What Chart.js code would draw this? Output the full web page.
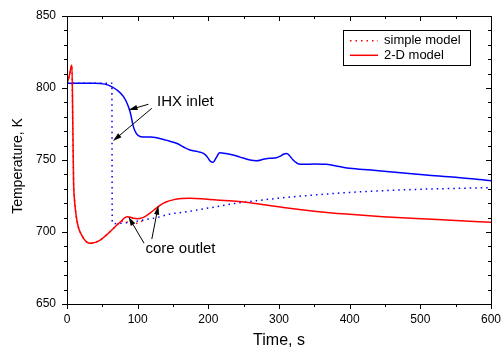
<!DOCTYPE html>
<html lang="en">
<head>
    <meta charset="UTF-8">
    <title>Temperature vs time</title>
    <script src="https://cdn.jsdelivr.net/npm/chart.js"></script>
    <style>
        body { margin: 0; background: #fff; }
    </style>
</head>
<body>
    <canvas id="lineChart" width="502" height="350"></canvas>

    <script>
        // 2-D model, core outlet (red solid)
        const coreTime2D = [0, 3, 7, 8.2, 9.3, 10.5, 11.7, 14, 16.5, 20, 23.4, 28, 33, 40, 47, 56, 66, 75, 85, 90, 94, 100, 106, 112, 118, 125, 132, 140, 150, 162, 174, 190, 212, 235, 259, 306, 353, 400, 447, 494, 550, 600];
        const coreTemp2D = [803, 808, 816, 775, 735, 723, 716.5, 708, 702.6, 698.5, 695.6, 693, 692.2, 692.8, 694.4, 698, 702.6, 706.8, 710.6, 710.3, 709.5, 709.2, 709.8, 711.2, 713.3, 716, 718.7, 720.8, 722.3, 723.2, 723.4, 723.1, 722.2, 721.5, 720.3, 717, 714.3, 712.3, 710.6, 709.3, 708, 706.7];

        // 2-D model, IHX inlet (blue solid)
        const ihxTime2D = [0, 20, 40, 47, 55, 63, 70.6, 80, 87, 90, 94, 98, 101, 108, 118, 127, 140, 155, 165, 174, 185, 193, 198, 203, 207, 211, 216, 225, 235, 245, 259, 268, 278, 287, 296, 301, 307, 311, 315, 320, 325, 328, 335, 350, 367, 385, 400, 430, 456, 480, 508, 550, 600];
        const ihxTemp2D = [803.3, 803.3, 803.3, 803.2, 802.5, 801, 798.6, 794, 787, 782, 773, 768.5, 767, 766, 766, 765.5, 763.8, 761.6, 759, 757, 755.8, 754.6, 752.5, 749, 748.5, 751.5, 755, 754.5, 753.5, 752, 750, 749.5, 750.5, 751.2, 751.5, 752.5, 754.2, 754.6, 753, 750, 748, 747.2, 747, 747.2, 747, 745.5, 744.2, 743, 741.9, 740.8, 739.6, 738, 735.6];

        // simple model, IHX inlet (blue dotted)
        const ihxTimeSimple = [0, 63.5, 64, 66, 80, 94, 110, 127, 146, 165, 190, 212, 240, 259, 300, 350, 400, 450, 500, 550, 600];
        const ihxTempSimple = [803.3, 803.3, 707, 705.8, 706.2, 707, 708.5, 710, 712.5, 713.7, 715.8, 717.6, 720, 721.2, 723.5, 725.7, 727.5, 728.7, 729.7, 730.3, 730.8];

        // simple model, core outlet (red dotted)
        const coreTimeSimple = [0, 3, 7, 8.2, 9.3, 10.5, 11.7, 14, 16.5, 20, 23.4, 28, 33, 40, 47, 56, 66, 75, 82, 89, 100, 110];
        const coreTempSimple = [803, 808, 816, 775, 735, 723, 716.5, 708, 702.6, 698.5, 695.6, 693, 692.2, 692.8, 694.4, 698, 702.6, 706.8, 708, 705, 706.3, 708.5];

        const xMinorTicks = [0, 50, 100, 150, 200, 250, 300, 350, 400, 450, 500, 550, 600];
        const yMinorTicks = [650, 660, 670, 680, 690, 700, 710, 720, 730, 740, 750, 760, 770, 780, 790, 800, 810, 820, 830, 840, 850];
        const legendLabels = ['simple model', '2-D model'];
        const xTitle = 'Time, s';
        const yTitle = 'Temperature, K';

        const toPoints = (xs, ys) => xs.map((x, i) => ({ x: x, y: ys[i] }));

        const FONT = '"Liberation Sans", Arial, sans-serif';

        function arrow(ctx, x1, y1, x2, y2) {
            const a = Math.atan2(y2 - y1, x2 - x1);
            const len = 9, hw = 2.6;
            ctx.beginPath();
            ctx.moveTo(x1, y1);
            ctx.lineTo(x2 - Math.cos(a) * len * 0.8, y2 - Math.sin(a) * len * 0.8);
            ctx.stroke();
            ctx.beginPath();
            ctx.moveTo(x2, y2);
            ctx.lineTo(x2 - Math.cos(a) * len - Math.sin(a) * hw, y2 - Math.sin(a) * len + Math.cos(a) * hw);
            ctx.lineTo(x2 - Math.cos(a) * len + Math.sin(a) * hw, y2 - Math.sin(a) * len - Math.cos(a) * hw);
            ctx.closePath();
            ctx.fill();
        }

        const decorations = {
            id: 'decorations',
            afterDraw(chart) {
                const ctx = chart.ctx;
                const area = chart.chartArea;
                const xs = chart.scales.x, ys = chart.scales.y;
                ctx.save();
                ctx.strokeStyle = '#000';
                ctx.fillStyle = '#000';
                ctx.lineWidth = 1;

                // frame
                ctx.strokeRect(Math.round(area.left) + 0.5, Math.round(area.top) + 0.5,
                    Math.round(area.right - area.left), Math.round(area.bottom - area.top));

                // ticks: outward on left/bottom, inward on top/right
                ctx.beginPath();
                xMinorTicks.forEach(v => {
                    const px = Math.round(xs.getPixelForValue(v)) + 0.5;
                    const len = v % 100 === 0 ? 5 : 3;
                    ctx.moveTo(px, area.bottom);
                    ctx.lineTo(px, area.bottom + len);
                    ctx.moveTo(px, area.top);
                    ctx.lineTo(px, area.top + len);
                });
                yMinorTicks.forEach(v => {
                    const py = Math.round(ys.getPixelForValue(v)) + 0.5;
                    const len = v % 50 === 0 ? 5 : 3;
                    ctx.moveTo(area.left, py);
                    ctx.lineTo(area.left - len, py);
                    ctx.moveTo(area.right, py);
                    ctx.lineTo(area.right - len, py);
                });
                ctx.stroke();

                // axis titles
                ctx.font = '16px ' + FONT;
                ctx.textAlign = 'center';
                ctx.textBaseline = 'middle';
                ctx.fillText(xTitle, (area.left + area.right) / 2, 341);
                ctx.save();
                ctx.translate(18, 166);
                ctx.rotate(-Math.PI / 2);
                ctx.font = '14px ' + FONT;
                ctx.fillText(yTitle, 0, 0);
                ctx.restore();

                // legend
                ctx.lineWidth = 1;
                ctx.strokeRect(343.5, 30.5, 127, 35);
                ctx.font = '13px ' + FONT;
                ctx.textAlign = 'left';
                const rows = [40.7, 55.3];
                legendLabels.forEach((label, i) => {
                    ctx.save();
                    ctx.strokeStyle = '#ff0000';
                    ctx.lineWidth = 1.5;
                    ctx.setLineDash(i === 0 ? [1.5, 4] : []);
                    ctx.beginPath();
                    ctx.moveTo(350, rows[i]);
                    ctx.lineTo(378, rows[i]);
                    ctx.stroke();
                    ctx.restore();
                    ctx.fillText(label, 384, rows[i]);
                });

                // annotations
                ctx.font = '15px ' + FONT;
                ctx.fillText('IHX inlet', xs.getPixelForValue(127.5), ys.getPixelForValue(790.3));
                ctx.fillText('core outlet', xs.getPixelForValue(111), ys.getPixelForValue(688.2));
                ctx.lineWidth = 1;
                const p = (t, T) => [xs.getPixelForValue(t), ys.getPixelForValue(T)];
                arrow(ctx, ...p(115.2, 788.7), ...p(87, 784.7));
                arrow(ctx, ...p(120, 785.9), ...p(65, 763.2));
                arrow(ctx, ...p(109, 692.2), ...p(87, 710.6));
                arrow(ctx, ...p(120, 695.1), ...p(129.3, 718.3));
                ctx.restore();
            }
        };

        const ctx = document.getElementById('lineChart').getContext('2d');
        new Chart(ctx, {
            type: 'line',
            data: {
                datasets: [{
                    label: '2-D model core outlet',
                    data: toPoints(coreTime2D, coreTemp2D),
                    borderColor: '#ff0000',
                    borderWidth: 1.5
                },
                {
                    label: '2-D model IHX inlet',
                    data: toPoints(ihxTime2D, ihxTemp2D),
                    borderColor: '#0000ff',
                    borderWidth: 1.5
                },
                {
                    label: 'simple model IHX inlet',
                    data: toPoints(ihxTimeSimple, ihxTempSimple),
                    borderColor: '#0000ff',
                    borderWidth: 1.5,
                    borderDash: [1.5, 4]
                },
                {
                    label: 'simple model core outlet',
                    data: toPoints(coreTimeSimple, coreTempSimple),
                    borderColor: '#ff0000',
                    borderWidth: 1.5,
                    borderDash: [1.5, 4]
                }]
            },
            options: {
                responsive: false,
                animation: false,
                devicePixelRatio: 1,
                layout: { padding: { top: 16, right: 11, left: 0, bottom: 0 } },
                elements: {
                    point: { radius: 0 },
                    line: { tension: 0, cubicInterpolationMode: 'monotone', fill: false }
                },
                plugins: {
                    legend: { display: false },
                    tooltip: { enabled: false }
                },
                scales: {
                    x: {
                        type: 'linear',
                        min: 0,
                        max: 600,
                        ticks: { stepSize: 100, color: '#000', font: { size: 12, family: FONT }, padding: 8, maxRotation: 0 },
                        grid: { display: false, drawTicks: false },
                        border: { display: false },
                        afterFit: s => { s.height = 46; s.paddingLeft = 0; s.paddingRight = 0; }
                    },
                    y: {
                        min: 650,
                        max: 850,
                        ticks: { stepSize: 50, color: '#000', font: { size: 12, family: FONT }, padding: 11 },
                        grid: { display: false, drawTicks: false },
                        border: { display: false },
                        afterFit: s => { s.width = 67; s.paddingTop = 0; s.paddingBottom = 0; }
                    }
                }
            },
            plugins: [decorations]
        });
    </script>
</body>
</html>
